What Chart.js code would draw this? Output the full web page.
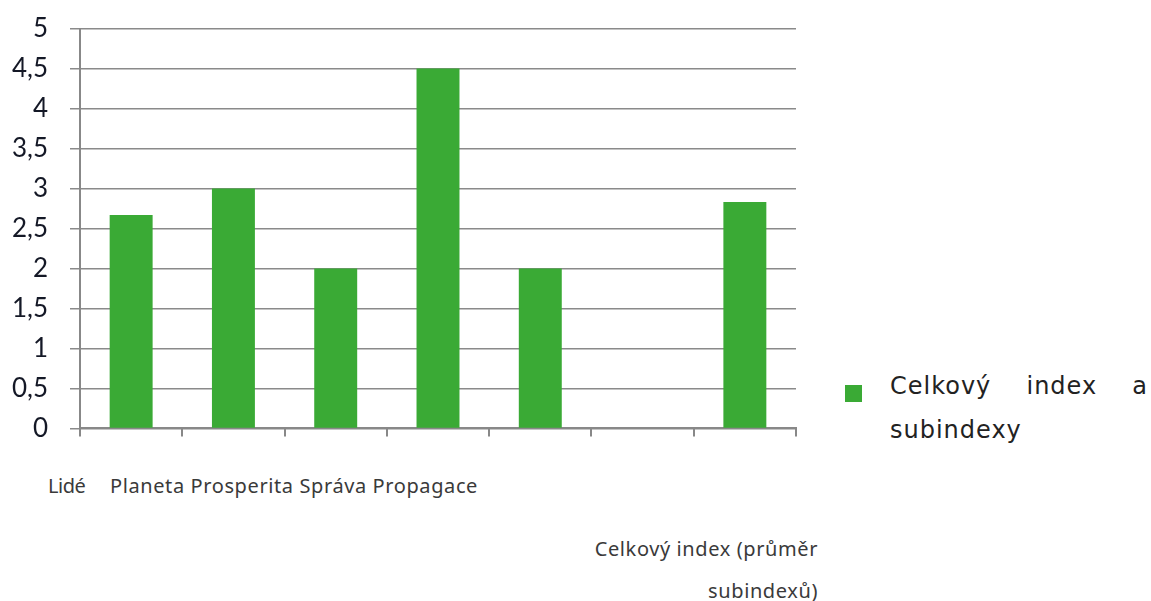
<!DOCTYPE html>
<html>
<head>
<meta charset="utf-8">
<script src="https://cdn.jsdelivr.net/npm/chart.js@4/dist/chart.umd.min.js"></script>
<style>
  body { margin: 0; background: #fff; width: 1151px; height: 601px; position: relative; overflow: hidden; }
  .box { position: absolute; left: 0; top: -9px; width: 830px; height: 475px; }
  .lbl { position: absolute; font-family: "Noto Sans", sans-serif; font-size: 20px; letter-spacing: 0.6px; color: #3a3a3a; white-space: pre; line-height: 1; }
  .leg-sq { position: absolute; left: 845px; top: 385px; width: 17px; height: 17px; background: #3aaa35; }
  .leg-txt { position: absolute; left: 890px; top: 364px; width: 258px; font-family: "DejaVu Sans", sans-serif; font-size: 24px; letter-spacing: 1px; line-height: 44px; color: #222; text-align: justify; }
</style>
</head>
<body>
<div class="box"><canvas id="chart"></canvas></div>
<div class="lbl" style="left:48px; top:476px; letter-spacing:-0.5px;">Lidé</div>
<div class="lbl" style="left:110px; top:476px;">Planeta Prosperita Správa Propagace</div>
<div class="lbl" style="right:333px; top:539px;">Celkový index (průměr</div>
<div class="lbl" style="right:333px; top:581px;">subindexů)</div>
<div class="leg-sq"></div>
<div class="leg-txt">Celkový index a subindexy</div>
<script>
const categories = ["Lidé", "Planeta", "Prosperita", "Správa", "Propagace", "", "Celkový index (průměr subindexů)"];
const values = [2.67, 3.0, 2.0, 4.5, 2.0, null, 2.83];
const seriesName = "Celkový index a subindexy";

const ctx = document.getElementById("chart");
new Chart(ctx, {
  type: "bar",
  data: {
    labels: categories,
    datasets: [{
      label: seriesName,
      data: values,
      backgroundColor: "#3aaa35",
      barPercentage: 0.42,
      categoryPercentage: 1
    }]
  },
  options: {
    responsive: true,
    maintainAspectRatio: false,
    animation: false,
    layout: { padding: { top: 13, right: 34, left: 0, bottom: 0 } },
    plugins: { legend: { display: false }, tooltip: { enabled: false } },
    scales: {
      x: {
        grid: { offset: true, drawOnChartArea: false, tickLength: 8, color: "#888", lineWidth: 2 },
        border: { color: "#888", width: 2 },
        ticks: { callback: () => "" },
        afterFit: (s) => { s.height = 28; }
      },
      y: {
        min: 0, max: 5,
        grid: { color: "#8a8a8a", lineWidth: 1.5, tickLength: 10 },
        border: { color: "#888", width: 2 },
        ticks: {
          stepSize: 0.5,
          padding: 22,
          color: "#141826",
          font: { family: "Lato, sans-serif", size: 26 },
          callback: (v) => String(v).replace(".", ",")
        },
        afterFit: (s) => { s.width = 80; }
      }
    }
  }
});
</script>
</body>
</html>
